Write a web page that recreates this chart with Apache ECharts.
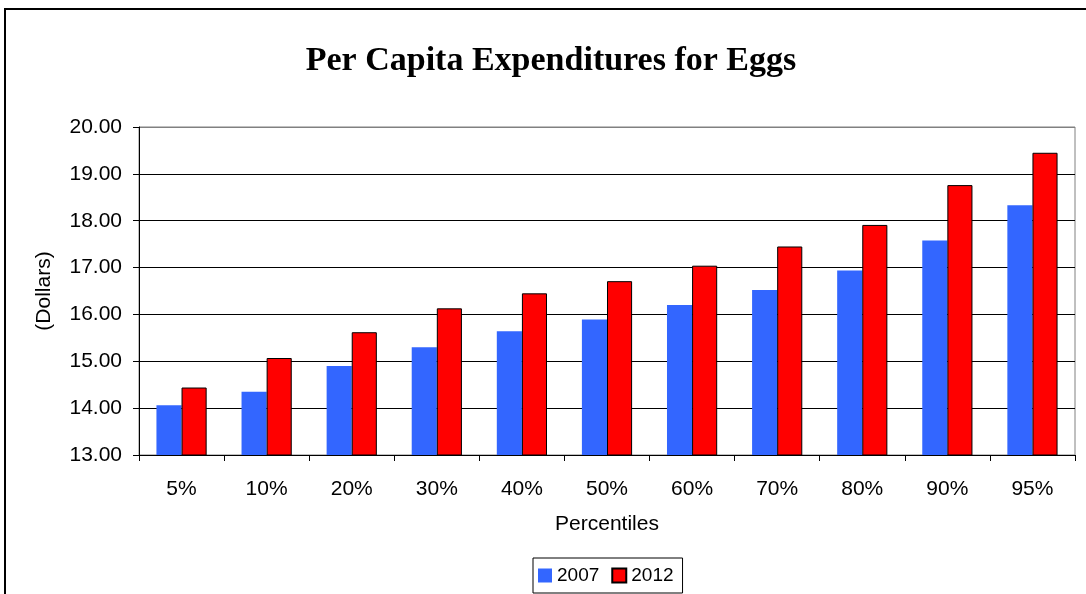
<!DOCTYPE html>
<html>
<head>
<meta charset="utf-8">
<script src="https://cdn.jsdelivr.net/npm/echarts@6/dist/echarts.min.js"></script>
<style>
html,body{margin:0;padding:0;background:#fff;}
#c{width:1086px;height:594px;}
</style>
</head>
<body>
<div id="c"></div>
<script>
const categories = ['5%','10%','20%','30%','40%','50%','60%','70%','80%','90%','95%'];
const values2007 = [14.06,14.35,14.90,15.30,15.64,15.89,16.20,16.52,16.94,17.58,18.33];
const values2012 = [14.44,15.07,15.62,16.13,16.45,16.71,17.04,17.45,17.91,18.76,19.45];
const seriesNames = ['2007','2012'];
const yTicks = {min:13, max:20, interval:1};

const chart = echarts.init(document.getElementById('c'), null, {renderer:'canvas'});
const axisFont = {fontFamily:'Liberation Sans, Arial, sans-serif', fontSize:21, color:'#000'};
chart.setOption({
  animation:false,
  backgroundColor:'#fff',
  title:{
    text:'Per Capita Expenditures for Eggs',
    left:546, top:39, textAlign:'center',
    textStyle:{fontFamily:'Liberation Serif, Times New Roman, serif', fontWeight:'bold', fontSize:34, color:'#000'}
  },
  graphic:[{
    type:'rect', shape:{x:5, y:9, width:1200, height:700},
    style:{fill:null, stroke:'#000', lineWidth:2}, silent:true
  }],
  grid:{left:139, top:127, width:936, height:328, show:true, borderColor:'#808080', borderWidth:1, backgroundColor:'transparent'},
  legend:{
    data:seriesNames,
    left:533, top:558,
    itemWidth:14, itemHeight:14, itemGap:12,
    padding:[8,9,8,5],
    borderColor:'#000', borderWidth:1,
    icon:'rect',
    textStyle:{fontFamily:'Liberation Sans, Arial, sans-serif', fontSize:19, color:'#000'}
  },
  xAxis:{
    type:'category', data:categories,
    name:'Percentiles', nameLocation:'middle', nameGap:59,
    nameTextStyle:axisFont,
    axisLine:{lineStyle:{color:'#000', width:1}},
    axisTick:{show:true, length:6, lineStyle:{color:'#000'}},
    axisLabel:Object.assign({margin:24, interval:0}, axisFont)
  },
  yAxis:{
    type:'value', min:yTicks.min, max:yTicks.max, interval:yTicks.interval,
    name:'(Dollars)', nameLocation:'middle', nameGap:84, nameRotate:90,
    nameTextStyle:axisFont,
    axisLine:{show:true, lineStyle:{color:'#000', width:1}},
    axisTick:{show:true, length:6, lineStyle:{color:'#000'}},
    axisLabel:Object.assign({margin:17, formatter:v=>v.toFixed(2)}, axisFont),
    splitLine:{show:true, lineStyle:{color:['#000','#000','#000','#000','#000','#000','#000','#808080'], width:1}}
  },
  series:[
    {name:seriesNames[0], type:'bar', data:values2007, barGap:'0%', barCategoryGap:'41%',
     itemStyle:{color:'#3366FF'}},
    {name:seriesNames[1], type:'bar', data:values2012, barGap:'0%', barCategoryGap:'41%',
     itemStyle:{color:'#FF0000', borderColor:'#000', borderWidth:1}}
  ]
});
</script>
</body>
</html>
